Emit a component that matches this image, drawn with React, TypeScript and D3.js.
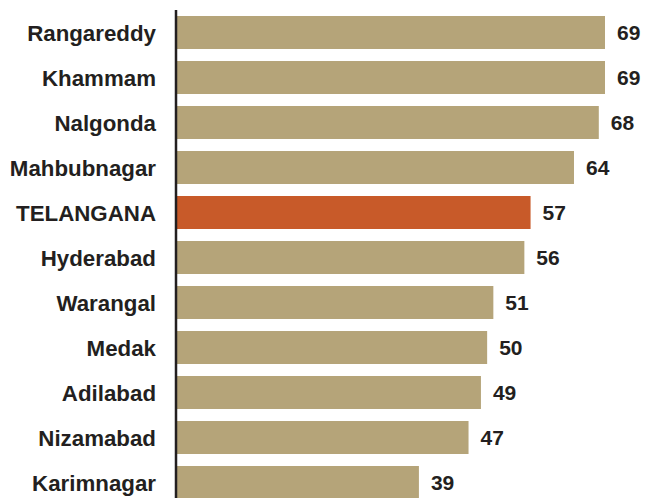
import { useEffect, useRef } from "react";
import * as d3 from "d3";

const districts = [
  "Rangareddy",
  "Khammam",
  "Nalgonda",
  "Mahbubnagar",
  "TELANGANA",
  "Hyderabad",
  "Warangal",
  "Medak",
  "Adilabad",
  "Nizamabad",
  "Karimnagar",
];
const values = [69, 69, 68, 64, 57, 56, 51, 50, 49, 47, 39];
const highlight = "TELANGANA";

export default function App() {
  const svgRef = useRef<SVGSVGElement | null>(null);

  useEffect(() => {
    const svgEl = svgRef.current;
    if (!svgEl) return;
    const width = 645;
    const height = 498;
    const svg = d3.select(svgEl);
    svg.selectAll("*").remove();
    svg.attr("width", width).attr("height", height);

    const rows = districts.map((name, i) => ({ name, value: values[i] }));

    const x = d3.scaleLinear().domain([0, 69]).range([177, 605]);
    const y = d3
      .scaleBand<string>()
      .domain(districts)
      .range([16, 499])
      .paddingInner(12 / 45)
      .paddingOuter(0);

    const font = "'Liberation Sans', Arial, Helvetica, sans-serif";

    svg
      .selectAll("rect.bar")
      .data(rows)
      .enter()
      .append("rect")
      .attr("class", "bar")
      .attr("x", x(0))
      .attr("y", (d) => y(d.name)!)
      .attr("width", (d) => x(d.value) - x(0))
      .attr("height", y.bandwidth())
      .attr("fill", (d) => (d.name === highlight ? "#C85A29" : "#B5A479"));

    svg
      .selectAll("text.cat")
      .data(rows)
      .enter()
      .append("text")
      .attr("class", "cat")
      .attr("x", 156)
      .attr("y", (d) => y(d.name)! + y.bandwidth() / 2)
      .attr("dy", "0.36em")
      .attr("text-anchor", "end")
      .attr("font-family", font)
      .attr("font-weight", "bold")
      .attr("font-size", 22.3)
      .attr("fill", "#231f20")
      .text((d) => d.name);

    svg
      .selectAll("text.val")
      .data(rows)
      .enter()
      .append("text")
      .attr("class", "val")
      .attr("x", (d) => x(d.value) + 12)
      .attr("y", (d) => y(d.name)! + y.bandwidth() / 2)
      .attr("dy", "0.36em")
      .attr("font-family", font)
      .attr("font-weight", "bold")
      .attr("font-size", 21)
      .attr("fill", "#231f20")
      .text((d) => d.value);

    svg
      .append("line")
      .attr("x1", 176)
      .attr("x2", 176)
      .attr("y1", 10)
      .attr("y2", height)
      .attr("stroke", "#231f20")
      .attr("stroke-width", 2.5);
  }, []);

  return (
    <svg
      ref={svgRef}
      style={{ position: "absolute", left: 0, top: 0, background: "#fff" }}
    />
  );
}
